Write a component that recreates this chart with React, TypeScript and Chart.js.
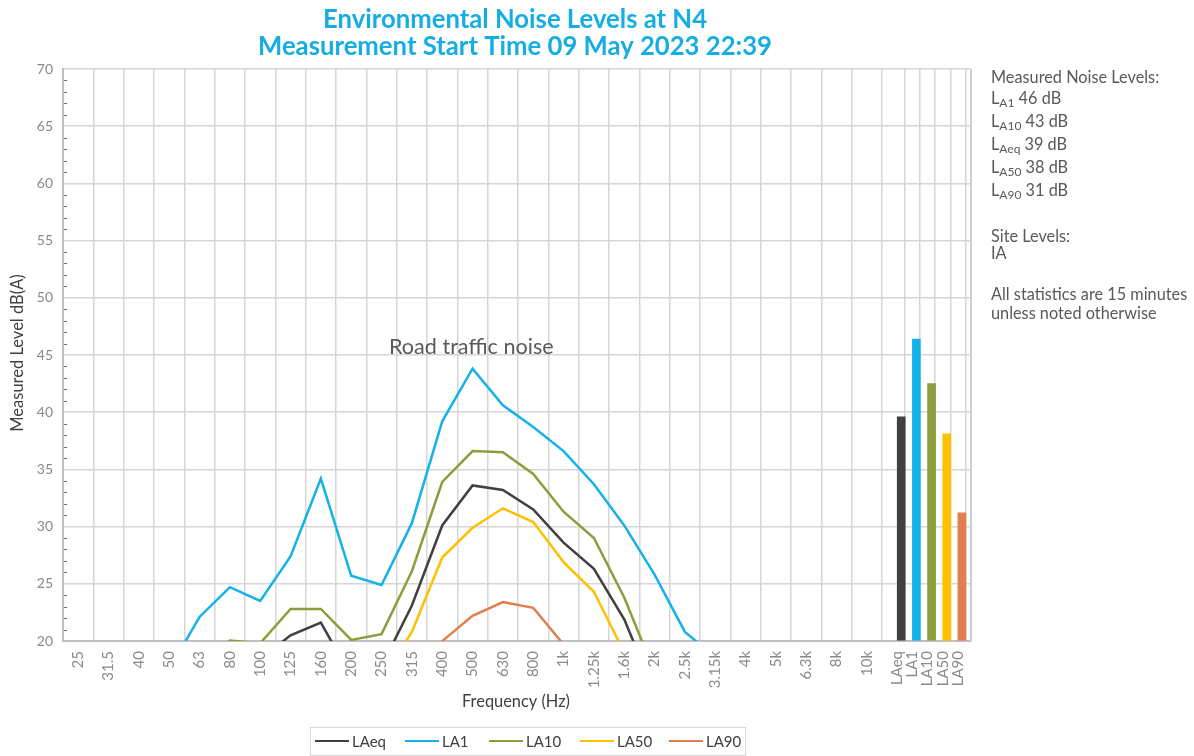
import React, { useEffect, useRef } from "react";
import { Chart, registerables } from "chart.js";

Chart.register(...registerables);

// ---------- data ----------
const FREQ_LABELS = [
  "25", "31.5", "40", "50", "63", "80", "100", "125", "160", "200", "250", "315", "400",
  "500", "630", "800", "1k", "1.25k", "1.6k", "2k", "2.5k", "3.15k", "4k", "5k", "6.3k", "8k", "10k",
];
const BAR_LABELS = ["LAeq", "LA1", "LA10", "LA50", "LA90"];

const SERIES_NAMES = ["LAeq", "LA1", "LA10", "LA50", "LA90"];

const LAEQ = [12, 12.5, 13, 14.5, 16.5, 18.5, 18.4, 20.5, 21.6, 16.9, 17.8, 23.1, 30.1, 33.6, 33.2, 31.5, 28.6, 26.3, 21.9, 15.5, 13, 10, 8, 6, 4, 2, 0];
const LA1 = [14, 14.5, 15.5, 17.5, 22.1, 24.7, 23.5, 27.4, 34.2, 25.7, 24.9, 30.3, 39.2, 43.8, 40.6, 38.7, 36.6, 33.7, 30.1, 25.8, 20.8, 18.6, 16, 14, 12, 10, 8];
const LA10 = [12, 13, 14, 15, 17.5, 20.05, 19.8, 22.8, 22.8, 20.1, 20.6, 26.1, 33.9, 36.6, 36.5, 34.6, 31.3, 29.0, 23.8, 17.3, 15, 12, 10, 8, 6, 4, 2];
const LA50 = [10, 10.5, 11, 12, 13.5, 15, 15.5, 17, 17.5, 15, 16.6, 20.8, 27.3, 29.9, 31.6, 30.4, 26.9, 24.3, 19.0, 14, 11, 9, 7, 5, 3, 1, 0];
const LA90 = [8, 8.5, 9, 9.5, 10.5, 11.5, 12, 13, 13.5, 12.5, 13.5, 16.5, 20.0, 22.2, 23.4, 22.9, 19.7, 17, 14, 11, 9, 7, 5, 4, 2, 1, 0];

const BAR_VALUES = [39.6, 46.4, 42.5, 38.1, 31.2];

const TITLE_LINES = ["Environmental Noise Levels at N4", "Measurement Start Time 09 May 2023 22:39"];
const STAT_SUBS = ["A1", "A10", "Aeq", "A50", "A90"];
const STAT_VALUES = [46, 43, 39, 38, 31];
const SITE_LINES = ["Site Levels:", "IA"];
const NOTE_LINES = ["All statistics are 15 minutes", "unless noted otherwise"];
const ANNOTATION = "Road traffic noise";

// ---------- styles ----------
const COLORS = ["#404040", "#14B2E8", "#8C9E3C", "#FFC000", "#E07E4E"];
const TITLE_COLOR = "#16AEE2";
const FONT = "Lato, 'Open Sans', sans-serif";
const GRID = "#d6d6d6";
const TEXT_GRAY = "#595959";
const TICK_GRAY = "#8a8a8a";
const BAR_SHIFT = 0.13;

const SERIES = [LAEQ, LA1, LA10, LA50, LA90];

const N = FREQ_LABELS.length;
const TICK_VALUES = [
  ...FREQ_LABELS.map((_, i) => i),
  ...BAR_LABELS.map((_, k) => N + k * 0.5),
];
const ALL_LABELS = [...FREQ_LABELS, ...BAR_LABELS];

const decorPlugin = {
  id: "decor",
  afterDraw(chart: any) {
    const ctx = chart.ctx as CanvasRenderingContext2D;
    const { left, right, top, bottom } = chart.chartArea;
    const yScale = chart.scales.y;
    ctx.save();

    // right border
    ctx.strokeStyle = "#cfcfcf";
    ctx.lineWidth = 2;
    ctx.beginPath();
    ctx.moveTo(right, top);
    ctx.lineTo(right, bottom);
    ctx.stroke();

    // minor ticks on y axis
    ctx.strokeStyle = "#707070";
    ctx.lineWidth = 1;
    for (let v = 21; v < 70; v++) {
      if (v % 5 === 0) continue;
      const py = Math.round(yScale.getPixelForValue(v)) + 0.5;
      ctx.beginPath();
      ctx.moveTo(left + 1, py);
      ctx.lineTo(left + 4, py);
      ctx.stroke();
    }

    // title
    ctx.fillStyle = TITLE_COLOR;
    ctx.font = `bold 25.7px ${FONT}`;
    ctx.textAlign = "center";
    ctx.textBaseline = "middle";
    ctx.fillText(TITLE_LINES[0], 515, 20);
    ctx.fillText(TITLE_LINES[1], 515, 47);

    // y axis title
    ctx.save();
    ctx.translate(18, 353);
    ctx.rotate(-Math.PI / 2);
    ctx.fillStyle = "#404040";
    ctx.font = `16.5px ${FONT}`;
    ctx.fillText("Measured Level dB(A)", 0, 0);
    ctx.restore();

    // x axis title
    ctx.fillStyle = "#404040";
    ctx.font = `16.4px ${FONT}`;
    ctx.fillText("Frequency (Hz)", 516, 702);

    // annotation
    ctx.fillStyle = TEXT_GRAY;
    ctx.font = `21.6px ${FONT}`;
    ctx.textAlign = "left";
    ctx.fillText(ANNOTATION, 389, 347);

    // right panel
    ctx.fillStyle = TEXT_GRAY;
    ctx.textBaseline = "alphabetic";
    const px = 991;
    const main = `16.3px ${FONT}`;
    const subF = `12px ${FONT}`;
    ctx.font = main;
    ctx.fillText("Measured Noise Levels:", px, 83);
    STAT_SUBS.forEach((sub, i) => {
      const by = 104 + i * 23;
      ctx.font = main;
      ctx.fillText("L", px, by);
      const w1 = ctx.measureText("L").width;
      ctx.font = subF;
      ctx.fillText(sub, px + w1, by + 3);
      const w2 = ctx.measureText(sub).width;
      ctx.font = main;
      ctx.fillText(" " + STAT_VALUES[i] + " dB", px + w1 + w2, by);
    });
    ctx.fillText(SITE_LINES[0], px, 242);
    ctx.fillText(SITE_LINES[1], px, 259);
    ctx.fillText(NOTE_LINES[0], px, 300);
    ctx.fillText(NOTE_LINES[1], px, 319);

    // legend
    ctx.strokeStyle = "#d9d9d9";
    ctx.lineWidth = 1;
    ctx.strokeRect(310.5, 727.5, 435, 28);
    const lineStarts = [315, 405, 489, 580, 669];
    ctx.textBaseline = "middle";
    ctx.font = `15px ${FONT}`;
    SERIES_NAMES.forEach((name, i) => {
      const x0 = lineStarts[i];
      ctx.strokeStyle = COLORS[i];
      ctx.lineWidth = 2;
      ctx.beginPath();
      ctx.moveTo(x0, 741);
      ctx.lineTo(x0 + 34, 741);
      ctx.stroke();
      ctx.fillStyle = "#404040";
      ctx.fillText(name, x0 + 37, 742);
    });

    ctx.restore();
  },
};

export default function App() {
  const canvasRef = useRef<HTMLCanvasElement | null>(null);

  useEffect(() => {
    const canvas = canvasRef.current;
    if (!canvas) return;

    const lineDatasets = SERIES.map((vals, s) => ({
      type: "line" as const,
      label: SERIES_NAMES[s],
      data: vals.map((v, i) => ({ x: i, y: v })),
      borderColor: COLORS[s],
      backgroundColor: COLORS[s],
      borderWidth: 2.5,
      pointRadius: 0,
      tension: 0,
      fill: false,
      order: SERIES.length - s,
    }));

    const barDataset = {
      type: "bar" as const,
      label: "Overall",
      data: BAR_VALUES.map((v, k) => ({ x: N + k * 0.5 + BAR_SHIFT, y: v })),
      backgroundColor: COLORS,
      borderWidth: 0,
      barThickness: 8,
      base: 20,
      order: 10,
    };

    const chart = new Chart(canvas, {
      type: "line",
      data: { datasets: [barDataset as any, ...lineDatasets] },
      options: {
        responsive: false,
        animation: false,
        layout: { padding: { top: 69, right: 223, left: 0, bottom: 0 } },
        plugins: {
          legend: { display: false },
          title: { display: false },
          tooltip: { enabled: false },
        },
        scales: {
          x: {
            type: "linear",
            min: -0.5,
            max: 29.43,
            offset: false,
            afterBuildTicks: (axis: any) => {
              axis.ticks = TICK_VALUES.map((v) => ({ value: v }));
            },
            afterFit: (axis: any) => {
              axis.height = 115;
            },
            ticks: {
              autoSkip: false,
              minRotation: 90,
              maxRotation: 90,
              padding: 10,
              color: TICK_GRAY,
              font: { family: FONT, size: 15 },
              callback: (_v: any, i: number) => ALL_LABELS[i],
            },
            grid: { color: GRID, lineWidth: 1.5, drawTicks: false },
            border: { color: "#bfbfbf", width: 2 },
          },
          y: {
            min: 20,
            max: 70,
            afterFit: (axis: any) => {
              axis.width = 63;
            },
            ticks: {
              stepSize: 5,
              padding: 10,
              color: TICK_GRAY,
              font: { family: FONT, size: 14 },
            },
            grid: { color: GRID, lineWidth: 1.5, drawTicks: false },
            border: { color: "#bfbfbf", width: 2 },
          },
        },
      },
      plugins: [decorPlugin],
    });

    return () => chart.destroy();
  }, []);

  return (
    <div style={{ position: "absolute", left: 0, top: 0, width: 1194, height: 756, background: "#fff" }}>
      <canvas ref={canvasRef} width={1194} height={756} style={{ display: "block" }} />
    </div>
  );
}
